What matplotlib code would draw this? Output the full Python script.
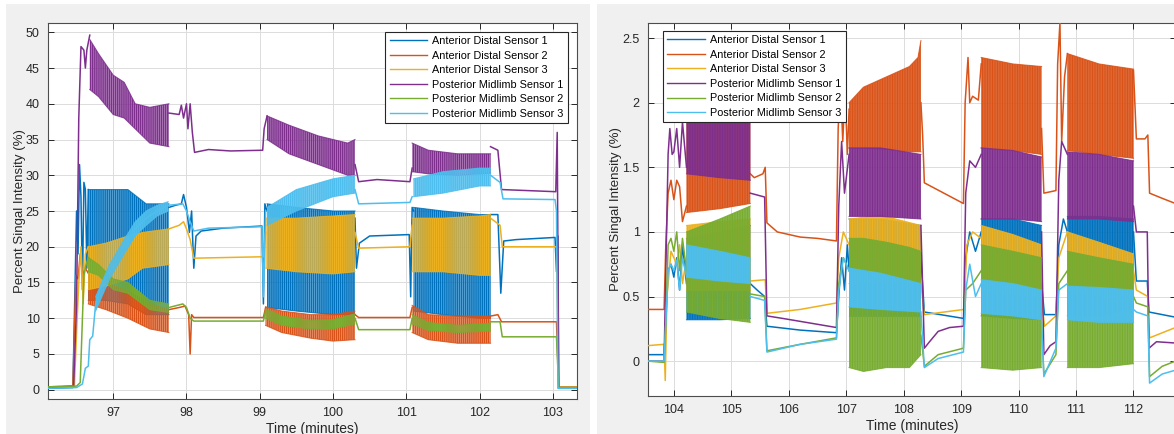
import numpy as np
import matplotlib
matplotlib.use("Agg")
import matplotlib.pyplot as plt
from matplotlib.patches import Rectangle
from matplotlib.lines import Line2D

nan = np.nan
plt.rcParams['font.family'] = ['Liberation Sans', 'DejaVu Sans']
plt.rcParams['hatch.linewidth'] = 1.0

SERIES = ["Anterior Distal Sensor 1", "Anterior Distal Sensor 2", "Anterior Distal Sensor 3",
          "Posterior Midlimb Sensor 1", "Posterior Midlimb Sensor 2", "Posterior Midlimb Sensor 3"]
COLORS = ["#0072BD", "#D95319", "#EDB120", "#7E2F8E", "#77AC30", "#4DBEEE"]

# ---------------- Left panel (96-103 min, %) ----------------
L_XTICKS = [97, 98, 99, 100, 101, 102, 103]
L_YTICKS = [0, 5, 10, 15, 20, 25, 30, 35, 40, 45, 50]

L_AD1_t = [96.11, 96.45, 96.48, 96.50, 96.52, 96.54, 96.56, 96.58, 96.60, 96.62, 96.64, 96.66, 96.9,
           97.76, 97.85, 97.93, 97.96, 98.0, 98.04, 98.07, 98.10, 98.13, 98.2, 98.5, 99.03, 99.05, 99.07, 99.1, 99.5,
           100.3, 100.32, 100.36, 100.5, 101.04, 101.06, 101.08, 101.1, 101.5,
           102.15, 102.25, 102.29, 102.33, 102.5, 103.03, 103.05, 103.07, 103.08, 103.33]
L_AD1_v = [0.2, 0.3, 15, 25, 19, 31.5, 27, 14, 29, 28, 17, 28, nan,
           25.5, 25.8, 26, 27.3, 25.5, 22, 25, 17, 21.5, 22.2, 22.6, 22.9, 12, 26, 25, nan,
           24, 17, 20.5, 21.5, 21.7, 13, 25.5, 25, nan,
           24.5, 24.5, 13.5, 20.8, 21, 21.3, 16.5, 21.5, 0.2, 0.2]
L_AD1_bands = [([96.66, 96.9, 97.2, 97.45, 97.76], [12.5, 12.5, 12, 10.5, 10.5], [28, 28, 28, 26, 26]),
               ([99.1, 99.5, 100.0, 100.3], [11.5, 11, 10.5, 10.5], [26, 25.5, 25, 25]),
               ([101.1, 101.5, 102.0, 102.15], [11, 10.5, 10, 10], [25.5, 25, 24.5, 24.5])]

L_AD2_t = [96.11, 96.45, 96.47, 96.49, 96.52, 96.55, 96.58, 96.62, 96.66, 96.9,
           97.76, 97.9, 97.98, 98.03, 98.05, 98.07, 98.1, 99.05, 99.08, 99.5,
           100.3, 100.35, 101.05, 101.08, 101.5,
           102.15, 102.25, 102.3, 103.05, 103.08, 103.33]
L_AD2_v = [0.4, 0.5, 8, 16, 15.5, 19, 16, 17, 16.3, nan,
           11.2, 11.5, 11.7, 10.5, 5, 10.5, 10.1, 10.1, 11.5, nan,
           10.5, 10.1, 10.1, 11.5, nan,
           10.3, 10.5, 9.5, 9.5, 0.4, 0.4]
L_AD2_bands = [([96.66, 96.9, 97.2, 97.5, 97.76], [12, 11.2, 10, 8.5, 8], [16.3, 15, 13.8, 12, 11.2]),
               ([99.08, 99.3, 99.7, 100.0, 100.3], [9, 8, 7.2, 6.8, 7], [11.6, 11, 10.5, 10.5, 11]),
               ([101.08, 101.3, 101.7, 102.15], [8, 7, 6.5, 6.5], [11.8, 10.5, 10.3, 10.3])]

L_AD3_t = [96.11, 96.47, 96.5, 96.53, 96.56, 96.59, 96.62, 96.66, 96.9,
           97.76, 97.9, 97.96, 98.0, 98.05, 98.1, 99.05, 99.08, 99.5,
           100.3, 100.35, 101.05, 101.08, 101.5,
           102.15, 102.28, 102.31, 103.05, 103.08, 103.33]
L_AD3_v = [0.4, 0.5, 8, 15, 20, 12, 19, 20, nan,
           22.5, 23, 23.5, 22.5, 21, 18.4, 18.6, 22, nan,
           22, 19.8, 20, 23, nan,
           24, 23, 20, 20, 0.4, 0.4]
L_AD3_bands = [([96.66, 96.9, 97.2, 97.4, 97.76], [14, 14.5, 15.5, 17, 17.5], [20, 20.5, 21.5, 22, 22.5]),
               ([99.08, 99.5, 100.0, 100.3], [17, 16.5, 16.2, 16.5], [24, 24, 24.3, 24.5]),
               ([101.08, 101.5, 102.0, 102.15], [16.5, 16.5, 16, 16], [24, 24, 24.3, 24.5])]

L_PM1_t = [96.11, 96.46, 96.5, 96.53, 96.56, 96.6, 96.62, 96.64, 96.68, 96.9,
           97.76, 97.9, 97.93, 97.96, 98.0, 98.02, 98.05, 98.08, 98.11, 98.3, 98.6, 99.04, 99.06, 99.1, 99.5,
           100.3, 100.35, 100.6, 101.05, 101.08, 101.5,
           102.15, 102.25, 102.3, 103.04, 103.06, 103.08, 103.33]
L_PM1_v = [0.3, 0.5, 12, 38, 48, 47.5, 45, 47.5, 49.6, nan,
           38.7, 38.5, 39.8, 38, 40, 36.5, 40, 36, 33.2, 33.6, 33.4, 33.5, 36.5, 38.3, nan,
           31.5, 29.1, 29.4, 29.1, 31, nan,
           34, 33.5, 28, 27.7, 36, 0.3, 0.3]
L_PM1_bands = [([96.68, 96.8, 97.0, 97.15, 97.3, 97.5, 97.76], [42, 41, 38.5, 38, 36.5, 34.5, 34], [49, 47, 44, 43, 40, 39.5, 40]),
               ([99.1, 99.4, 99.8, 100.2, 100.3], [35, 33, 31.5, 30, 30], [38.3, 37, 35.5, 34.5, 35]),
               ([101.08, 101.3, 101.7, 102.15], [30.5, 30.2, 30, 30.3], [34.5, 33.5, 33, 33])]

L_PM2_t = [96.11, 96.5, 96.55, 96.58, 96.6, 96.63, 96.66, 96.9,
           97.76, 97.95, 98.0, 98.05, 98.1, 99.05, 99.08, 99.5,
           100.3, 100.35, 101.05, 101.08, 101.5,
           102.15, 102.28, 102.31, 103.05, 103.08, 103.33]
L_PM2_v = [0.4, 0.5, 1, 10, 16, 17.5, 18.5, nan,
           11.5, 12, 11.5, 10, 9.6, 9.6, 11, nan,
           10, 8.4, 8.4, 10, nan,
           9.5, 9.5, 7.4, 7.4, 0.3, 0.3]
L_PM2_bands = [([96.66, 96.8, 97.0, 97.2, 97.5, 97.76], [16.5, 16, 14, 13.5, 11.2, 10.8], [18.5, 17.5, 15.5, 15, 12.5, 12]),
               ([99.08, 99.3, 99.7, 100.0, 100.3], [10, 9, 8.5, 8.5, 9.2], [11.3, 10.3, 9.7, 9.8, 10.6]),
               ([101.08, 101.3, 101.7, 102.15], [9.2, 8.3, 8, 8.2], [10.5, 9.4, 9.0, 9.3])]

L_PM3_t = [96.11, 96.5, 96.58, 96.62, 96.66, 96.68, 96.72, 96.76, 96.85, 96.95, 97.05, 97.15, 97.3, 97.45,
           97.6, 97.75, 97.95, 98.0, 98.05, 98.1, 98.3, 99.03, 99.05, 99.08, 99.5,
           100.3, 100.35, 101.05, 101.08, 101.5,
           102.15, 102.28, 102.32, 103.03, 103.05, 103.07, 103.33]
L_PM3_v = [0.2, 0.3, 0.8, 3, 3.3, 7, 7.5, 12, 15, 16.5, 18, 20, 22.5, 24,
           25, 25.8, 26, 25, 23.5, 22.2, 22.6, 22.8, 13, 25, nan,
           28, 26, 26.2, 27, nan,
           30, 29, 26.7, 26.6, 25, 0.2, 0.2]
L_PM3_bands = [([96.76, 96.95, 97.15, 97.3, 97.45, 97.6, 97.75], [11, 15.5, 19, 21.5, 23, 24.3, 25],
                [13, 17.5, 21, 23.5, 25, 25.8, 26.3]),
               ([99.1, 99.5, 100.0, 100.3], [23, 25, 27, 27.5], [25.5, 28, 29.5, 30]),
               ([101.1, 101.5, 102.0, 102.15], [27, 27.5, 28.5, 28.5], [29.5, 30.5, 31, 31])]

# ---------------- Right panel (104-112 min, %) ----------------
R_XTICKS = [104, 105, 106, 107, 108, 109, 110, 111, 112]
R_YTICKS = [0, 0.5, 1, 1.5, 2, 2.5]
R_YTICKLABELS = ["0", "0.5", "1", "1.5", "2", "2.5"]

R_AD1_t = [103.55, 103.83, 103.86, 103.9, 103.95, 104.0, 104.05, 104.1, 104.15, 104.22, 104.8,
           105.33, 105.45, 105.58, 105.62, 106.2, 106.83, 106.87, 106.92, 106.97, 107.02, 107.05, 107.6,
           108.3, 108.36, 109.05, 109.08, 109.15, 109.25, 109.35, 109.9,
           110.4, 110.45, 110.65, 110.7, 110.78, 110.85, 111.4,
           112.0, 112.05, 112.24, 112.27, 112.73]
R_AD1_v = [0.05, 0.05, 0.3, 0.7, 0.75, 0.65, 0.8, 0.55, 0.9, 0.6, nan,
           0.6, 0.55, 0.5, 0.27, 0.24, 0.22, 0.5, 0.8, 0.55, 0.9, 0.7, nan,
           0.8, 0.38, 0.33, 0.8, 1.0, 0.85, 1.0, nan,
           0.6, 0.36, 0.36, 0.9, 1.1, 1.0, nan,
           1.0, 0.62, 0.62, 0.38, 0.34]
R_AD1_bands = [([104.22, 104.8, 105.33], [0.32, 0.32, 0.33], [0.95, 1.0, 1.05]),
               ([107.05, 107.6, 108.3], [0.35, 0.35, 0.35], [1.1, 1.1, 1.05]),
               ([109.35, 109.9, 110.4], [0.35, 0.33, 0.32], [1.1, 1.1, 1.05]),
               ([110.85, 111.4, 112.0], [0.35, 0.35, 0.4], [1.12, 1.12, 1.1])]

R_AD2_t = [103.55, 103.83, 103.86, 103.9, 103.95, 104.0, 104.05, 104.1, 104.15, 104.22, 104.8,
           105.33, 105.4, 105.55, 105.59, 105.62, 105.8, 106.2, 106.5, 106.83, 106.86, 106.9, 106.94, 106.98,
           107.02, 107.05, 107.6,
           108.3, 108.33, 108.36, 108.7, 109.04, 109.07, 109.12, 109.15, 109.2, 109.3, 109.35, 109.9,
           110.4, 110.44, 110.65, 110.68, 110.72, 110.75, 110.8, 110.85, 111.4,
           112.0, 112.05, 112.2, 112.25, 112.28, 112.5, 112.73]
R_AD2_v = [0.4, 0.4, 0.9, 1.3, 1.4, 1.25, 1.4, 1.35, 1.08, 1.2, nan,
           1.45, 1.42, 1.45, 1.5, 1.07, 1.0, 0.96, 0.95, 0.93, 1.8, 2.15, 1.7, 2.1,
           1.6, 1.95, nan,
           2.0, 1.75, 1.38, 1.3, 1.22, 2.0, 2.35, 2.0, 2.05, 2.02, 2.3, nan,
           1.8, 1.3, 1.32, 2.3, 2.62, 1.7, 2.2, 2.38, nan,
           2.25, 1.72, 1.72, 1.75, 1.3, 1.26, 1.22]
R_AD2_bands = [([104.22, 104.8, 105.33], [1.15, 1.18, 1.22], [1.9, 1.95, 1.95]),
               ([107.05, 107.3, 107.7, 108.1, 108.25, 108.3], [1.65, 1.65, 1.64, 1.62, 1.62, 1.62],
                [2.0, 2.12, 2.2, 2.28, 2.35, 2.48]),
               ([109.35, 109.9, 110.4], [1.65, 1.63, 1.6], [2.35, 2.3, 2.28]),
               ([110.85, 111.4, 112.0], [1.63, 1.6, 1.57], [2.38, 2.3, 2.26])]

R_AD3_t = [103.55, 103.83, 103.85, 103.88, 103.95, 104.05, 104.1, 104.15, 104.22, 104.8,
           105.33, 105.59, 105.62, 106.2, 106.83, 106.87, 106.95, 107.05, 107.6,
           108.3, 108.36, 109.05, 109.1, 109.2, 109.35, 109.9,
           110.4, 110.45, 110.65, 110.7, 110.85, 111.4,
           112.0, 112.05, 112.25, 112.28, 112.73]
R_AD3_v = [0.12, 0.13, -0.15, 0.5, 0.85, 0.75, 0.9, 0.6, 0.8, nan,
           0.62, 0.63, 0.37, 0.4, 0.45, 0.8, 1.0, 0.9, nan,
           0.6, 0.36, 0.4, 0.9, 1.0, 0.95, nan,
           0.5, 0.27, 0.35, 0.8, 1.0, nan,
           0.7, 0.55, 0.5, 0.18, 0.26]
R_AD3_bands = [([104.22, 104.8, 105.33], [0.55, 0.55, 0.55], [1.05, 1.08, 1.1]),
               ([107.05, 107.6, 108.3], [0.6, 0.62, 0.6], [1.1, 1.13, 1.05]),
               ([109.35, 109.9, 110.4], [0.55, 0.52, 0.5], [1.05, 0.98, 0.9]),
               ([110.85, 111.4, 112.0], [0.55, 0.5, 0.45], [1.0, 0.92, 0.83])]

R_PM1_t = [103.55, 103.83, 103.86, 103.9, 103.93, 103.97, 104.0, 104.05, 104.1, 104.15, 104.22, 104.8,
           105.33, 105.58, 105.62, 105.9, 106.3, 106.83, 106.87, 106.92, 106.97, 107.05, 107.6,
           108.3, 108.36, 108.45, 108.6, 108.8, 109.04, 109.08, 109.15, 109.25, 109.35, 109.9,
           110.4, 110.44, 110.55, 110.65, 110.7, 110.75, 110.85, 111.4,
           112.0, 112.05, 112.24, 112.27, 112.4, 112.73]
R_PM1_v = [0.0, 0.0, 0.7, 1.6, 1.8, 1.6, 1.62, 1.8, 1.5, 1.85, 1.5, nan,
           1.3, 1.27, 0.35, 0.33, 0.3, 0.26, 1.2, 1.7, 1.3, 1.6, nan,
           1.05, 0.1, 0.15, 0.23, 0.26, 0.27, 1.3, 1.55, 1.5, 1.6, nan,
           1.0, 0.05, 0.12, 0.15, 1.4, 1.7, 1.6, nan,
           1.2, 1.0, 1.0, 0.1, 0.15, 0.14]
R_PM1_bands = [([104.22, 104.8, 105.33], [1.45, 1.42, 1.4], [1.95, 1.97, 1.95]),
               ([107.05, 107.6, 108.3], [1.12, 1.12, 1.1], [1.65, 1.65, 1.6]),
               ([109.35, 109.9, 110.4], [1.1, 1.1, 1.08], [1.65, 1.63, 1.58]),
               ([110.85, 111.4, 112.0], [1.1, 1.1, 1.08], [1.62, 1.6, 1.55])]

R_PM2_t = [103.55, 103.83, 103.86, 103.9, 103.95, 104.0, 104.05, 104.1, 104.15, 104.22, 104.8,
           105.33, 105.58, 105.62, 106.2, 106.83, 106.87, 106.95, 107.05, 107.6,
           108.3, 108.36, 108.6, 109.04, 109.08, 109.2, 109.35, 109.9,
           110.4, 110.44, 110.65, 110.7, 110.85, 111.4,
           112.0, 112.05, 112.25, 112.28, 112.5, 112.73]
R_PM2_v = [0.0, -0.01, 0.3, 0.9, 0.95, 0.85, 1.0, 0.7, 0.95, 0.7, nan,
           0.52, 0.5, 0.08, 0.13, 0.18, 0.6, 0.8, 0.7, nan,
           0.2, -0.04, 0.05, 0.1, 0.55, 0.6, 0.7, nan,
           0.3, -0.1, 0.05, 0.6, 0.7, nan,
           0.5, 0.45, 0.42, -0.12, -0.04, 0.0]
R_PM2_bands = [([104.22, 104.8, 105.33], [0.38, 0.33, 0.3], [1.0, 1.1, 1.2]),
               ([107.05, 107.3, 107.7, 108.1, 108.3], [-0.05, -0.08, -0.05, -0.05, 0.05], [0.95, 0.95, 0.92, 0.88, 0.85]),
               ([109.35, 109.9, 110.4], [-0.05, -0.07, -0.05], [0.9, 0.85, 0.8]),
               ([110.85, 111.4, 112.0], [-0.05, -0.05, -0.02], [0.85, 0.8, 0.75])]

R_PM3_t = [103.55, 103.83, 103.86, 103.9, 103.95, 104.0, 104.05, 104.1, 104.15, 104.22, 104.8,
           105.33, 105.58, 105.62, 106.2, 106.83, 106.87, 106.95, 107.05, 107.6,
           108.3, 108.36, 108.6, 109.04, 109.08, 109.15, 109.25, 109.35, 109.9,
           110.4, 110.44, 110.65, 110.7, 110.85, 111.4,
           112.0, 112.05, 112.25, 112.28, 112.5, 112.73]
R_PM3_v = [0.0, 0.0, 0.3, 0.7, 0.75, 0.7, 0.78, 0.55, 0.8, 0.65, nan,
           0.5, 0.47, 0.07, 0.13, 0.17, 0.55, 0.8, 0.7, nan,
           0.38, -0.05, 0.02, 0.07, 0.55, 0.75, 0.5, 0.6, nan,
           0.3, -0.12, 0.1, 0.55, 0.6, nan,
           0.4, 0.38, 0.35, -0.17, -0.1, -0.07]
R_PM3_bands = [([104.22, 104.8, 105.33], [0.65, 0.62, 0.6], [0.9, 0.85, 0.8]),
               ([107.05, 107.6, 108.3], [0.42, 0.4, 0.38], [0.72, 0.68, 0.6]),
               ([109.35, 109.9, 110.4], [0.37, 0.35, 0.32], [0.63, 0.6, 0.55]),
               ([110.85, 111.4, 112.0], [0.32, 0.3, 0.3], [0.58, 0.57, 0.55])]

LEFT = [(L_AD1_t, L_AD1_v, L_AD1_bands), (L_AD2_t, L_AD2_v, L_AD2_bands), (L_AD3_t, L_AD3_v, L_AD3_bands),
        (L_PM1_t, L_PM1_v, L_PM1_bands), (L_PM2_t, L_PM2_v, L_PM2_bands), (L_PM3_t, L_PM3_v, L_PM3_bands)]
RIGHT = [(R_AD1_t, R_AD1_v, R_AD1_bands), (R_AD2_t, R_AD2_v, R_AD2_bands), (R_AD3_t, R_AD3_v, R_AD3_bands),
         (R_PM1_t, R_PM1_v, R_PM1_bands), (R_PM2_t, R_PM2_v, R_PM2_bands), (R_PM3_t, R_PM3_v, R_PM3_bands)]

W, H = 1174, 434
fig = plt.figure(figsize=(W / 100, H / 100), dpi=100, facecolor='white')
fig.patches.append(Rectangle((6 / W, 0), (590 - 6) / W, (H - 4) / H, transform=fig.transFigure,
                             facecolor='#f0f0f0', edgecolor='none', zorder=-10))
fig.patches.append(Rectangle((597 / W, 0), (W - 597) / W, (H - 4) / H, transform=fig.transFigure,
                             facecolor='#f0f0f0', edgecolor='none', zorder=-10))

axL = fig.add_axes([48 / W, (H - 399) / H, (577 - 48) / W, (399 - 23) / H])
axR = fig.add_axes([648 / W, (H - 396) / H, (1176 - 648) / W, (396 - 23) / H])

TXT = '#262626'


def draw(ax, data, alpha_band, hatch):
    for i, (t, v, bands) in enumerate(data):
        c = COLORS[i]
        z = 2 + i
        for bt, lo, hi in bands:
            a = alpha_band if i != 5 else alpha_band + 0.2
            ax.fill_between(bt, lo, hi, facecolor=matplotlib.colors.to_rgba(c, a),
                            edgecolor=c, hatch=hatch, linewidth=0.0, zorder=z)
            ax.plot(bt, lo, color=c, lw=0.8, alpha=0.8, zorder=z)
            ax.plot(bt, hi, color=c, lw=0.8, alpha=0.8, zorder=z)
        ax.plot(t, v, color=c, lw=1.1, zorder=z + 0.5, label=SERIES[i])


draw(axL, LEFT, 0.55, '||||||||')
draw(axR, RIGHT, 0.6, '||||||||||')

axL.set_xlim(96.11, 103.33)
axL.set_ylim(-1.3, 51.3)
axL.set_xticks(L_XTICKS)
axL.set_yticks(L_YTICKS)

axR.set_xlim(103.55, 112.74)
axR.set_ylim(-0.27, 2.617)
axR.set_xticks(R_XTICKS)
axR.set_yticks(R_YTICKS)
axR.set_yticklabels(R_YTICKLABELS)

for ax in (axL, axR):
    ax.set_facecolor('white')
    ax.grid(True, color='#dcdcdc', lw=0.7, zorder=0)
    ax.set_axisbelow(True)
    ax.tick_params(direction='in', top=True, right=True, length=4, width=0.7,
                   colors=TXT, labelsize=9, pad=6)
    for s in ax.spines.values():
        s.set_color('#4d4d4d')
        s.set_linewidth(0.8)
    ax.set_xlabel('Time (minutes)', fontsize=10, color=TXT, labelpad=2)
    ax.set_ylabel('Percent Singal Intensity (%)', fontsize=9.5, color=TXT, labelpad=0)

handles = [Line2D([0], [0], color=c, lw=1.0) for c in COLORS]
common = dict(borderaxespad=0, fontsize=7.8, frameon=True, fancybox=False, framealpha=1,
              edgecolor='#262626', handlelength=3.5, handletextpad=0.45, labelspacing=0.42, borderpad=0.4)
legL = axL.legend(handles, SERIES, loc='upper right', bbox_to_anchor=(0.983, 0.977), **common)
legR = axR.legend(handles, SERIES, loc='upper left', bbox_to_anchor=(0.0285, 0.979), **common)
for leg in (legL, legR):
    leg.get_frame().set_linewidth(0.8)
    leg.set_zorder(20)

fig.savefig('out.png', dpi=100, facecolor='white')
